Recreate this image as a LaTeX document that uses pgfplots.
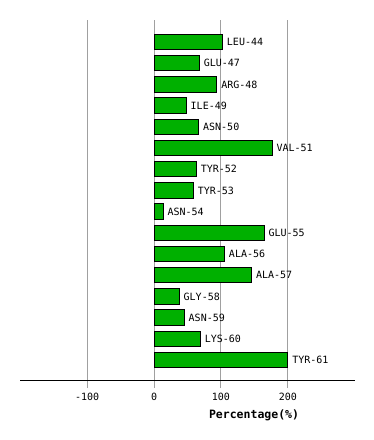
\documentclass[border=0pt]{standalone}
\usepackage{pgfplots}
\pgfplotsset{compat=1.18}
\usepackage{fontspec}
\setmainfont{DejaVu Sans Mono}
\definecolor{barg}{RGB}{0,176,0}
\definecolor{gridg}{RGB}{160,160,160}
\begin{document}
\begin{tikzpicture}
\useasboundingbox (-20.3bp,-60bp) rectangle (353.7bp,380bp);
\begin{axis}[
  scale only axis, width=334.4bp, height=360bp,
  xmin=-200, xmax=300, ymin=-0.94, ymax=16.04,
  axis x line*=bottom, axis y line=none,
  x axis line style={-, black, line width=1bp},
  xtick={-100,0,100,200}, xticklabels={-100,0,100,200},
  ytick=\empty,
  xmajorgrids, grid style={gridg, line width=1bp},
  tick align=outside, major tick length=8bp,
  tick style={gridg, line width=1bp},
  xticklabel style={font=\fontsize{10bp}{12bp}\selectfont, inner sep=0pt, yshift=-5bp},
  xlabel={Percentage(\%)},
  xlabel style={at={(axis description cs:0.699,0)}, anchor=center, yshift=-35bp,
    font=\bfseries\fontsize{11.5bp}{13bp}\selectfont},
  clip=false,
]
\addplot[xbar, bar width=15.4bp, bar shift=0pt, fill=barg, draw=black, line width=1bp,
  point meta=explicit symbolic, nodes near coords,
  nodes near coords style={anchor=west, text=black, inner sep=0pt, xshift=4bp,
    font=\fontsize{10bp}{12bp}\selectfont}]
  table[x=v, y=i, meta=n, row sep=\\]{
  v i n\\
  102.3 15 LEU-44\\
  67.7 14 GLU-47\\
  93.8 13 ARG-48\\
  48.1 12 ILE-49\\
  66.7 11 ASN-50\\
  176.5 10 VAL-51\\
  63.2 9 TYR-52\\
  58.6 8 TYR-53\\
  13.5 7 ASN-54\\
  164.5 6 GLU-55\\
  105.3 5 ALA-56\\
  145.9 4 ALA-57\\
  37.6 3 GLY-58\\
  45.1 2 ASN-59\\
  69.2 1 LYS-60\\
  200 0 TYR-61\\
  };
\end{axis}
\end{tikzpicture}
\end{document}
